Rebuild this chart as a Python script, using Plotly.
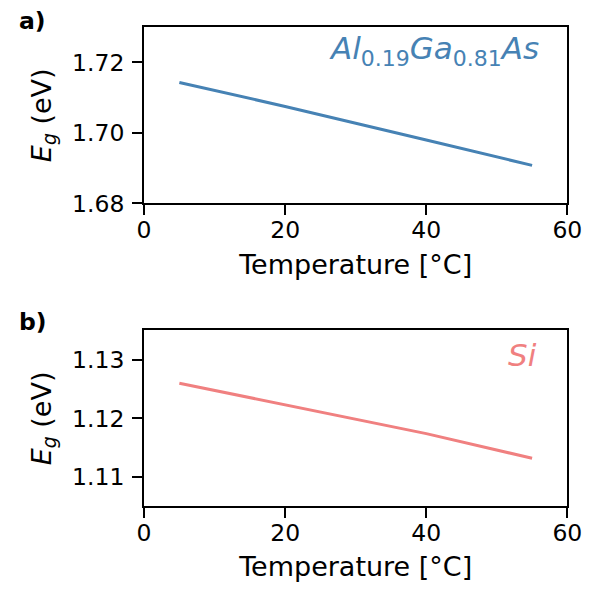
import plotly.graph_objects as go

# Data
temp_c = [5, 20, 40, 55]
eg_algaas = [1.7143, 1.7075, 1.6980, 1.6908]
eg_si = [1.1260, 1.1223, 1.1174, 1.1132]

x_ticks = [0, 20, 40, 60]
y_ticks_a = [1.68, 1.70, 1.72]
y_ticks_b = [1.11, 1.12, 1.13]

blue = "#4682B4"
coral = "#F08080"
FONT = "DejaVu Sans"

fig = go.Figure()
fig.add_trace(go.Scatter(x=temp_c, y=eg_algaas, mode="lines",
                         line=dict(color=blue, width=3), xaxis="x", yaxis="y", showlegend=False))
fig.add_trace(go.Scatter(x=temp_c, y=eg_si, mode="lines",
                         line=dict(color=coral, width=3), xaxis="x2", yaxis="y2", showlegend=False))

W, H = 600, 606
def fx(px):
    return px / W
def fy(py):
    return (H - py) / H

axis_common = dict(showline=True, linecolor="black", linewidth=2, mirror=True,
                   ticks="outside", ticklen=10, tickwidth=2, tickcolor="black",
                   showgrid=False, zeroline=False,
                   tickfont=dict(family=FONT, size=23.5, color="black"))

TITLE_FONT = dict(family=FONT, size=27)
YTITLE = "<i>E</i><sub><i>g</i></sub> (eV)"

xdom = [fx(142.3), fx(581.7)]
fig.update_layout(
    width=W, height=H,
    margin=dict(l=0, r=0, t=0, b=0),
    paper_bgcolor="white", plot_bgcolor="white",
    font=dict(family=FONT, color="black"),
    xaxis=dict(domain=xdom, anchor="y", range=[0, 60], tickvals=x_ticks,
               title=dict(text="Temperature [°C]", font=TITLE_FONT, standoff=12),
               ticklabelstandoff=-6, **axis_common),
    yaxis=dict(domain=[fy(208.3), fy(27.7)], anchor="x", range=[1.68, 1.73], tickvals=y_ticks_a,
               tickformat=".2f",
               title=dict(text=YTITLE, font=TITLE_FONT, standoff=13),
               ticklabelstandoff=3, **axis_common),
    xaxis2=dict(domain=xdom, anchor="y2", range=[0, 60], tickvals=x_ticks,
                title=dict(text="Temperature [°C]", font=TITLE_FONT, standoff=12),
                ticklabelstandoff=-6, **axis_common),
    yaxis2=dict(domain=[fy(518.3), fy(338.3)], anchor="x2", range=[1.105, 1.135], tickvals=y_ticks_b,
                tickformat=".2f",
                title=dict(text=YTITLE, font=TITLE_FONT, standoff=13),
                ticklabelstandoff=3, **axis_common),
)

fig.add_annotation(text="<b>a)</b>", x=fx(10), y=fy(21), xref="paper", yref="paper",
                   xanchor="left", yanchor="middle", showarrow=False,
                   font=dict(family=FONT, size=23.5, color="black"))
fig.add_annotation(text="<b>b)</b>", x=fx(10), y=fy(330), xref="paper", yref="paper",
                   xanchor="left", yanchor="middle", showarrow=False,
                   font=dict(family=FONT, size=23.5, color="black"))

SUB = '<sub><span style="font-size:22px">{}</span></sub>'
algaas_label = "<i>Al</i>" + SUB.format("0.19") + "<i>Ga</i>" + SUB.format("0.81") + "<i>As</i>"
fig.add_annotation(text=algaas_label, x=fx(554), y=fy(52),
                   xref="paper", yref="paper", xanchor="right", yanchor="middle", showarrow=False,
                   font=dict(family=FONT, size=31, color=blue))
fig.add_annotation(text="<i>Si</i>", x=fx(552), y=fy(363),
                   xref="paper", yref="paper", xanchor="right", yanchor="middle", showarrow=False,
                   font=dict(family=FONT, size=31, color=coral))

fig.write_html("out.html")
